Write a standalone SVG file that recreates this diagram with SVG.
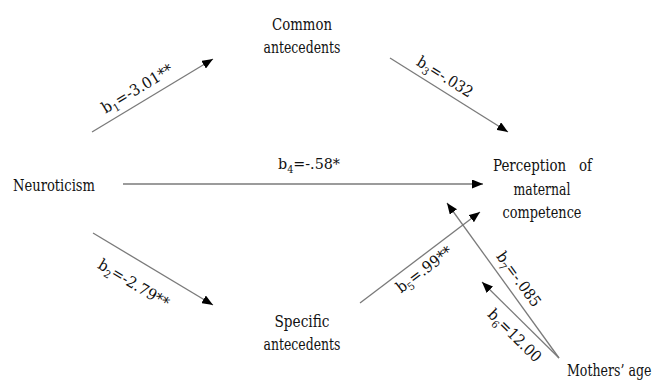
<svg xmlns="http://www.w3.org/2000/svg" width="654" height="384" viewBox="0 0 654 384">
<defs>
<marker id="ah" markerUnits="userSpaceOnUse" markerWidth="11" markerHeight="9" refX="11" refY="4.5" orient="auto">
<path d="M0,0 L11,4.5 L0,9 z" fill="#000"/>
</marker>
<style>
text{font-family:'DejaVu Serif','Liberation Serif',serif;fill:#111}
.n{font-size:17px}
.l{font-size:15.5px}
.s{font-size:10.5px}
.c{stroke:#7a7a7a;stroke-width:1.3;fill:none;marker-end:url(#ah)}
</style>
</defs>
<rect width="654" height="384" fill="#fff"/>
<g id="common">
<text class="n" x="302" y="30" text-anchor="middle" textLength="60" lengthAdjust="spacingAndGlyphs">Common</text>
<text class="n" x="302" y="53" text-anchor="middle" textLength="77" lengthAdjust="spacingAndGlyphs">antecedents</text>
</g>
<g id="specific">
<text class="n" x="302" y="327" text-anchor="middle" textLength="55" lengthAdjust="spacingAndGlyphs">Specific</text>
<text class="n" x="302" y="350" text-anchor="middle" textLength="77" lengthAdjust="spacingAndGlyphs">antecedents</text>
</g>
<g id="neuroticism"><text class="n" x="13" y="191" textLength="82" lengthAdjust="spacingAndGlyphs">Neuroticism</text></g>
<g id="perception">
<text class="n" x="493" y="171" textLength="99" lengthAdjust="spacingAndGlyphs" style="white-space:pre">Perception   of</text>
<text class="n" x="542" y="195" text-anchor="middle" textLength="57" lengthAdjust="spacingAndGlyphs">maternal</text>
<text class="n" x="542" y="218" text-anchor="middle" textLength="79" lengthAdjust="spacingAndGlyphs">competence</text>
</g>
<g id="age"><text class="n" transform="translate(567,376) scale(0.74,1)">Mothers’ age</text></g>
<g id="connectors">
<line class="c" x1="92" y1="132" x2="213" y2="59"/>
<line class="c" x1="390" y1="58" x2="508" y2="132"/>
<line class="c" x1="123" y1="184" x2="483" y2="184"/>
<line class="c" x1="93" y1="233" x2="213" y2="305"/>
<line class="c" x1="360" y1="303" x2="480" y2="212"/>
<line class="c" x1="559" y1="358" x2="447" y2="203"/>
<line class="c" x1="559" y1="358" x2="482" y2="282"/>
</g>
<g id="labels">
<text class="l" text-anchor="middle" transform="translate(144,100) rotate(-31)" y="-8" textLength="80" lengthAdjust="spacingAndGlyphs">b<tspan class="s" dy="4">1</tspan><tspan dy="-4">=-3.01**</tspan></text>
<text class="l" text-anchor="middle" transform="translate(438,88) rotate(32)" y="-8" textLength="63" lengthAdjust="spacingAndGlyphs">b<tspan class="s" dy="4">3</tspan><tspan dy="-4">=-.032</tspan></text>
<text class="l" x="309" y="169" text-anchor="middle" textLength="62" lengthAdjust="spacingAndGlyphs">b<tspan class="s" dy="4">4</tspan><tspan dy="-4">=-.58*</tspan></text>
<text class="l" text-anchor="middle" transform="translate(145,265) rotate(31)" y="27" textLength="80" lengthAdjust="spacingAndGlyphs">b<tspan class="s" dy="4">2</tspan><tspan dy="-4">=-2.79**</tspan></text>
<text class="l" text-anchor="middle" transform="translate(417,260) rotate(-37)" y="17" textLength="66" lengthAdjust="spacingAndGlyphs">b<tspan class="s" dy="4">5</tspan><tspan dy="-4">=.99**</tspan></text>
<text class="l" text-anchor="middle" transform="translate(508,287) rotate(54)" y="-8" textLength="64" lengthAdjust="spacingAndGlyphs">b<tspan class="s" dy="4">7</tspan><tspan dy="-4">=-.085</tspan></text>
<text class="l" text-anchor="middle" transform="translate(525,325) rotate(44.6)" y="20" textLength="68" lengthAdjust="spacingAndGlyphs">b<tspan class="s" dy="4">6</tspan><tspan dy="-4">=12.00</tspan></text>
</g>
</svg>
